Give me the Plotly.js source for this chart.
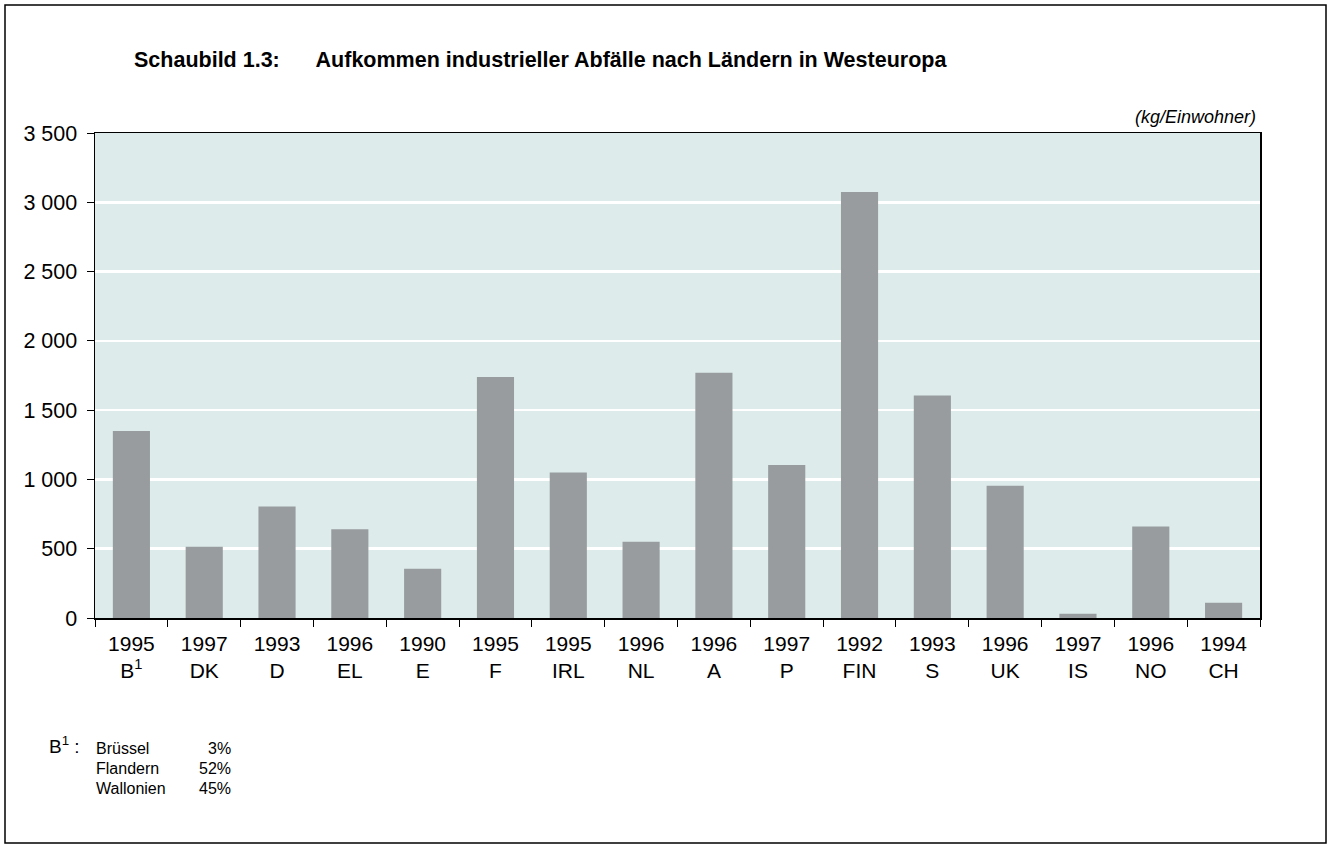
<!DOCTYPE html>
<html>
<head>
<meta charset="utf-8">
<script src="https://cdn.plot.ly/plotly-3.0.1.min.js"></script>
<style>html,body{margin:0;padding:0;background:#fff;}#chart{width:1332px;height:848px;}</style>
</head>
<body>
<div id="chart"></div>
<script>
// Data
const countries = ["B", "DK", "D", "EL", "E", "F", "IRL", "NL", "A", "P", "FIN", "S", "UK", "IS", "NO", "CH"];
const countryLabels = ["B<sup>1</sup>", "DK", "D", "EL", "E", "F", "IRL", "NL", "A", "P", "FIN", "S", "UK", "IS", "NO", "CH"];
const years = ["1995", "1997", "1993", "1996", "1990", "1995", "1995", "1996", "1996", "1997", "1992", "1993", "1996", "1997", "1996", "1994"];
const values = [1350, 515, 805, 640, 355, 1740, 1050, 550, 1770, 1105, 3075, 1605, 955, 30, 660, 110];
const footRegions = ["Brüssel", "Flandern", "Wallonien"];
const footShares = ["3%", "52%", "45%"];

const W = 1332, H = 848;
const M = {l: 95, r: 72, t: 133, b: 230};
const PW = W - M.l - M.r, PH = H - M.t - M.b;
const px = x => (x - M.l) / PW;
const py = y => (H - M.b - y) / PH;

const font = "Liberation Sans, Arial, sans-serif";
const tickText = years.map((y, i) => y + "<br>" + countryLabels[i]);

const annotations = [
  {text: "<b>Schaubild 1.3:\u00a0\u00a0\u00a0\u00a0\u00a0\u00a0Aufkommen industrieller Abfälle nach Ländern in Westeuropa</b>",
   xref: "paper", yref: "paper", x: px(540), y: py(60), xanchor: "center", yanchor: "middle",
   showarrow: false, font: {family: font, size: 21.5, color: "#000"}},
  {text: "<i>(kg/Einwohner)</i>", xref: "paper", yref: "paper", x: px(1258), y: py(117),
   xanchor: "right", yanchor: "middle", showarrow: false, font: {family: font, size: 18, color: "#000"}},
  {text: "B<sup>1</sup> :", xref: "paper", yref: "paper", x: px(47), y: py(745),
   xanchor: "left", yanchor: "middle", showarrow: false, font: {family: font, size: 19, color: "#000"}}
];
footRegions.forEach((r, i) => {
  annotations.push({text: r, xref: "paper", yref: "paper", x: px(94), y: py(748 + i * 20),
    xanchor: "left", yanchor: "middle", showarrow: false, font: {family: font, size: 16, color: "#000"}});
  annotations.push({text: footShares[i], xref: "paper", yref: "paper", x: px(233), y: py(748 + i * 20),
    xanchor: "right", yanchor: "middle", showarrow: false, font: {family: font, size: 16, color: "#000"}});
});

const data = [{
  type: "bar", x: countries, y: values,
  marker: {color: "#989c9f", line: {width: 0}},
  hoverinfo: "x+y"
}];

const layout = {
  width: W, height: H,
  margin: M,
  paper_bgcolor: "#fff",
  plot_bgcolor: "#ddecea",
  separators: ", ",
  bargap: 0.49,
  showlegend: false,
  font: {family: font, size: 21, color: "#000"},
  xaxis: {
    type: "category", tickvals: countries, ticktext: tickText,
    tickson: "boundaries", ticks: "outside", ticklen: 7, tickcolor: "#000", tickwidth: 1,
    showline: true, linecolor: "#000", linewidth: 1.5, mirror: true,
    showgrid: false, zeroline: false, ticklabelstandoff: 6,
    tickfont: {family: font, size: 21, color: "#000"}
  },
  yaxis: {
    range: [0, 3500], dtick: 500, tick0: 0, separatethousands: true, tickformat: ",d",
    ticks: "outside", ticklen: 7, tickcolor: "#000", tickwidth: 1,
    showline: true, linecolor: "#000", linewidth: 1.5, mirror: true,
    showgrid: true, gridcolor: "#ffffff", gridwidth: 2.5, zeroline: false, ticklabelstandoff: 5,
    tickfont: {family: font, size: 21.5, color: "#000"}
  },
  annotations: annotations,
  shapes: [{
    type: "rect", xref: "paper", yref: "paper",
    x0: px(5), x1: px(1326), y0: py(5), y1: py(843),
    line: {color: "#000", width: 1.5}, fillcolor: "rgba(0,0,0,0)", layer: "below"
  }]
};

Plotly.newPlot("chart", data, layout, {displayModeBar: false, staticPlot: true});
</script>
</body>
</html>
